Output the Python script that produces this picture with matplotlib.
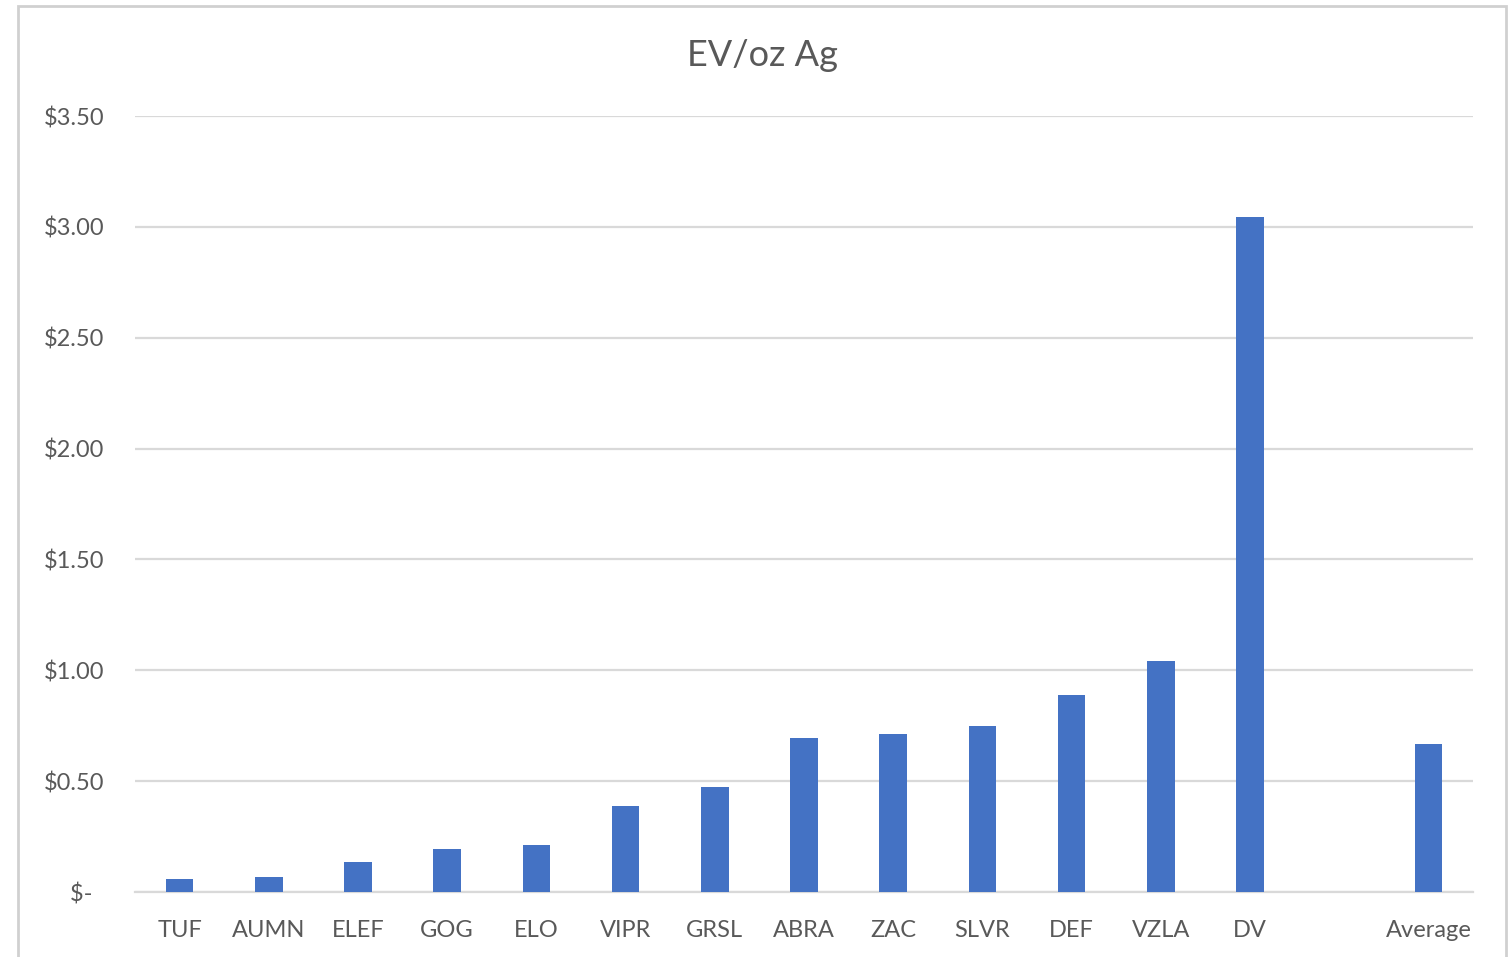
import matplotlib.pyplot as plt
import numpy as np
from matplotlib.patches import Rectangle
from matplotlib.ticker import FixedLocator

tickers = ["TUF", "AUMN", "ELEF", "GOG", "ELO", "VIPR", "GRSL", "ABRA",
           "ZAC", "SLVR", "DEF", "VZLA", "DV", "", "Average"]
ev_per_oz = [0.057, 0.069, 0.135, 0.194, 0.212, 0.388, 0.474, 0.695,
             0.713, 0.749, 0.889, 1.042, 3.045, np.nan, 0.668]
y_ticks = [0, 0.5, 1.0, 1.5, 2.0, 2.5, 3.0, 3.5]
y_labels = ["$-  ", "$0.50", "$1.00", "$1.50", "$2.00", "$2.50", "$3.00", "$3.50"]

TEXT = "#595959"
GRID = "#D9D9D9"
plt.rcParams['font.family'] = ['Lato', 'DejaVu Sans']

fig = plt.figure(figsize=(15.08, 9.57), dpi=100)
ax = fig.add_axes([135/1508, 65/957, 1338/1508, 776/957])

x = np.arange(len(tickers))
vals = np.array(ev_per_oz, dtype=float)
mask = ~np.isnan(vals)
ax.bar(x[mask], vals[mask], width=0.31, color="#4472C4", zorder=3)

ax.set_xlim(-0.5, len(tickers) - 0.5)
ax.set_ylim(0, 3.5)
ax.yaxis.set_major_locator(FixedLocator(y_ticks))
ax.set_yticklabels(y_labels)
ax.set_xticks(x)
ax.set_xticklabels(tickers)

ax.grid(axis='y', color=GRID, linewidth=1.6, zorder=0)
for s in ["top", "right", "left"]:
    ax.spines[s].set_visible(False)
ax.spines["bottom"].set_color(GRID)
ax.spines["bottom"].set_linewidth(1.6)
ax.spines["bottom"].set_zorder(1)
ax.tick_params(axis='both', length=0, colors=TEXT, labelsize=17)
ax.tick_params(axis='y', pad=22)
ax.tick_params(axis='x', pad=20)

fig.text(762/1508, 1 - 55/957, "EV/oz Ag", ha='center', va='center',
         fontsize=26, color=TEXT)

# chart area border
fig.patches.append(Rectangle((18/1508, -0.05), 1488/1508, 1.05 - 6/957,
                             transform=fig.transFigure, fill=False,
                             edgecolor="#D0D0D0", linewidth=2))

fig.savefig("out.png", dpi=100, facecolor="white")
